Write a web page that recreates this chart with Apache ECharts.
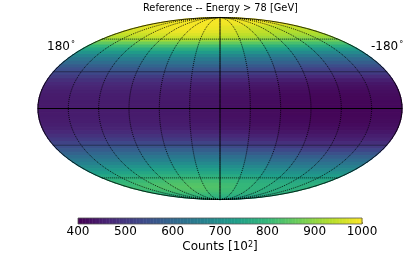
<!DOCTYPE html>
<html><head><meta charset="utf-8">
<style>html,body{margin:0;padding:0;background:#fff}#c{width:415px;height:258px}</style>
<script src="https://cdn.jsdelivr.net/npm/echarts@6/dist/echarts.min.js"></script>
</head><body><div id="c"></div>
<script>
const titleText = 'Reference -- Energy > 78 [GeV]';
const barName = 'Counts [10{s|2}]';
const barTicks = [400,500,600,700,800,900,1000];
const graticuleLon = [150,120,90,60,30,-30,-60,-90,-120,-150];
const graticuleLat = [60,30,-30,-60];
// longitude column centres, left (+180) to right (-180)
const lonCenters = [165,135,105,75,45,15,-15,-45,-75,-105,-135,-165];
// one row per 3 degrees of latitude, north to south; first row is 88.5
const firstLat = 88.5, latStep = 3;
const counts = [
[990,992,995,997,997,995,993,991,989,987,985,987],
[990,992,995,997,997,995,993,991,989,987,985,987],
[990,992,995,997,997,995,993,991,989,987,985,987],
[987,989,992,994,994,992,990,988,986,984,982,984],
[984,986,990,992,992,990,988,984,980,976,972,976],
[975,980,988,992,993,987,978,968,958,948,943,949],
[968,975,984,990,990,982,973,963,951,941,937,943],
[960,967,977,983,983,975,965,955,943,933,929,935],
[948,955,965,971,971,963,953,943,931,921,917,923],
[930,937,947,953,953,945,935,925,913,903,899,905],
[895,902,912,918,918,910,900,890,878,868,864,870],
[850,857,867,873,873,865,855,845,833,823,819,825],
[800,807,817,823,823,815,805,795,783,773,769,775],
[750,757,767,773,773,765,755,745,733,723,719,725],
[710,717,727,733,733,725,715,705,693,683,679,685],
[670,677,687,693,693,685,675,665,653,643,639,645],
[633,640,650,656,656,648,638,628,616,606,602,608],
[603,610,620,626,626,618,608,598,586,576,572,578],
[573,580,590,596,596,588,578,568,556,546,542,548],
[545,552,560,564,562,555,546,536,526,516,512,518],
[525,532,538,538,534,525,517,509,503,499,499,505],
[503,507,507,505,501,495,487,479,473,469,469,475],
[480,484,484,482,478,472,464,456,450,446,446,452],
[466,470,470,468,464,458,450,442,436,432,432,438],
[456,460,460,458,454,448,440,432,426,422,422,428],
[450,454,454,452,448,442,434,426,420,416,416,422],
[446,450,450,448,444,438,430,422,416,412,412,418],
[444,448,448,446,442,436,428,420,414,410,410,416],
[442,446,446,444,440,434,426,418,412,408,408,414],
[442,446,446,444,440,434,426,418,412,408,408,414],
[442,446,446,444,440,434,426,418,412,408,408,414],
[442,446,446,444,440,434,426,418,412,408,408,414],
[444,448,448,446,442,436,428,420,414,410,410,416],
[446,450,450,448,444,438,430,422,416,412,412,418],
[450,454,454,452,448,442,434,426,420,416,416,422],
[456,460,460,458,454,448,440,432,426,422,422,428],
[466,471,472,470,466,460,451,443,436,432,432,438],
[482,487,488,486,482,476,466,456,448,442,442,450],
[500,506,508,506,502,496,484,472,462,456,454,462],
[522,530,532,530,527,522,508,494,482,474,472,480],
[544,552,556,554,554,550,534,518,504,494,492,500],
[566,574,580,582,584,578,562,546,532,522,520,528],
[590,598,604,610,612,606,590,574,560,550,548,556],
[616,624,630,638,640,634,618,602,588,578,576,584],
[640,648,656,664,666,660,644,628,614,604,602,610],
[664,674,682,690,692,686,670,654,640,630,628,636],
[688,700,708,716,718,712,696,680,666,656,654,662],
[712,724,732,740,742,736,720,704,690,680,678,686],
[734,746,754,762,764,758,742,726,712,702,700,708],
[756,768,776,784,786,780,764,748,734,724,722,730],
[776,788,796,804,806,800,784,768,754,744,742,750],
[794,806,814,822,824,818,802,786,772,762,760,768],
[804,816,824,832,834,828,812,796,782,772,770,778],
[810,822,830,838,840,832,816,800,786,776,774,782],
[810,820,828,834,834,828,812,798,784,774,770,778],
[802,812,820,824,824,818,808,798,788,780,776,782],
[788,798,806,808,808,804,796,788,780,772,770,776],
[774,784,792,794,794,790,782,774,766,758,756,762],
[762,772,780,782,782,778,770,762,754,746,744,750],
[754,764,772,774,774,770,762,754,746,738,736,742]
];

const R2 = Math.SQRT2;
function theta(latDeg){
  const p = latDeg*Math.PI/180;
  if(Math.abs(latDeg)>=90) return p;
  let t = p;
  for(let i=0;i<30;i++){ t -= (2*t+Math.sin(2*t)-Math.PI*Math.sin(p))/(2+2*Math.cos(2*t)); }
  return t;
}
function project(lon,lat){
  const t = theta(lat);
  return [-(lon/180)*2*R2*Math.cos(t), R2*Math.sin(t)];
}
function meridian(lon){ const a=[]; for(let lat=-90;lat<=90;lat+=2) a.push(project(lon,lat)); return a; }
function parallel(lat){ return [project(180,lat),project(-180,lat)]; }

const cells=[];
counts.forEach((row,i)=>row.forEach((v,j)=>cells.push([lonCenters[j],firstLat-i*latStep,v])));

function renderCell(params,api){
  const lon=api.value(0), lat=api.value(1), pts=[];
  const dl=15, dp=1.5;
  for(let k=0;k<=2;k++){ pts.push(api.coord(project(lon+dl,lat+dp-k*dp))); }
  for(let k=0;k<=2;k++){ pts.push(api.coord(project(lon-dl,lat-dp+k*dp))); }
  const c=api.visual('color');
  return {type:'polygon',shape:{points:pts},style:{fill:c,stroke:c,lineWidth:1.2}};
}
const barLevels=[]; for(let v=400;v<1000;v+=3) barLevels.push(v);
function renderBar(params,api){
  const v=api.value(0);
  const a=api.coord([v,0]), b=api.coord([v+3,1]);
  const c=api.visual('color');
  return {type:'rect',shape:{x:a[0],y:b[1],width:b[0]-a[0]+0.5,height:a[1]-b[1]},style:{fill:c}};
}
const dotted={color:'#000',width:0.8,type:[1,1]};
const lines=[];
graticuleLon.forEach(l=>lines.push({type:'line',data:meridian(l),showSymbol:false,silent:true,z:5,lineStyle:dotted,xAxisIndex:0,yAxisIndex:0}));
graticuleLat.forEach(l=>lines.push({type:'line',data:parallel(l),showSymbol:false,silent:true,z:5,lineStyle:dotted,xAxisIndex:0,yAxisIndex:0}));
const solid={color:'#000',width:1};
lines.push({type:'line',data:meridian(0),showSymbol:false,silent:true,z:6,lineStyle:solid,xAxisIndex:0,yAxisIndex:0});
lines.push({type:'line',data:parallel(0),showSymbol:false,silent:true,z:6,lineStyle:solid,xAxisIndex:0,yAxisIndex:0});
[180,-180].forEach(l=>lines.push({type:'line',data:meridian(l),showSymbol:false,silent:true,z:6,lineStyle:{color:'#000',width:0.8},xAxisIndex:0,yAxisIndex:0}));

const chart=echarts.init(document.getElementById('c'),null,{renderer:'canvas'});
const font='"DejaVu Sans"';
const degRich={a:{fontFamily:font,fontSize:12,fill:'#000'},b:{fontFamily:font,fontSize:8,fill:'#000',verticalAlign:'top',padding:[0,0,4,1]}};
chart.setOption({
  animation:false,
  backgroundColor:'#fff',
  textStyle:{fontFamily:font},
  title:{text:titleText,left:143,top:3,padding:0,textStyle:{fontFamily:font,fontSize:9.8,fontWeight:'normal',color:'#000'}},
  grid:[
    {left:38,top:17.5,width:364,height:182,show:false},
    {left:78,top:218,width:284,height:6,show:true,z:8,backgroundColor:'transparent',borderColor:'#555',borderWidth:0.8}
  ],
  xAxis:[
    {gridIndex:0,type:'value',min:-2*R2,max:2*R2,show:false},
    {gridIndex:1,type:'value',min:400,max:1000,interval:100,position:'bottom',
     axisLine:{show:false},splitLine:{show:false},
     axisTick:{show:true,inside:true,length:2,lineStyle:{color:'#222',width:0.7}},
     axisLabel:{fontFamily:font,fontSize:12,color:'#000',margin:2,showMinLabel:true,showMaxLabel:true,
       formatter:v=>barTicks.includes(v)?String(v):''},
     name:barName,nameLocation:'middle',nameGap:17,
     nameTextStyle:{fontFamily:font,fontSize:12,color:'#000',rich:{s:{fontFamily:font,fontSize:8,verticalAlign:'top',padding:[0,0,3,0],color:'#000'}}}}
  ],
  yAxis:[
    {gridIndex:0,type:'value',min:-R2,max:R2,show:false},
    {gridIndex:1,type:'value',min:0,max:1,show:false}
  ],
  visualMap:{show:false,type:'continuous',min:400,max:1000,dimension:2,seriesIndex:[0,1],
    inRange:{color:['#440154','#482878','#3e4989','#31688e','#26828e','#1f9e89','#35b779','#6ece58','#b5de2b','#fde725']}},
  graphic:[
    {type:'text',left:47,top:41,z:20,style:{rich:degRich,text:'{a|180}{b|°}'}},
    {type:'text',left:371,top:41,z:20,style:{rich:degRich,text:'{a|-180}{b|°}'}}
  ],
  series:[
    {type:'custom',coordinateSystem:'cartesian2d',xAxisIndex:0,yAxisIndex:0,silent:true,z:2,clip:false,
     encode:{x:0,y:1},dimensions:['lon','lat','counts'],data:cells,renderItem:renderCell},
    {type:'custom',coordinateSystem:'cartesian2d',xAxisIndex:1,yAxisIndex:1,silent:true,z:2,
     encode:{x:0,y:1},dimensions:['a','b','level'],data:barLevels.map(v=>[v,0,v]),renderItem:renderBar}
  ].concat(lines)
});
</script></body></html>
